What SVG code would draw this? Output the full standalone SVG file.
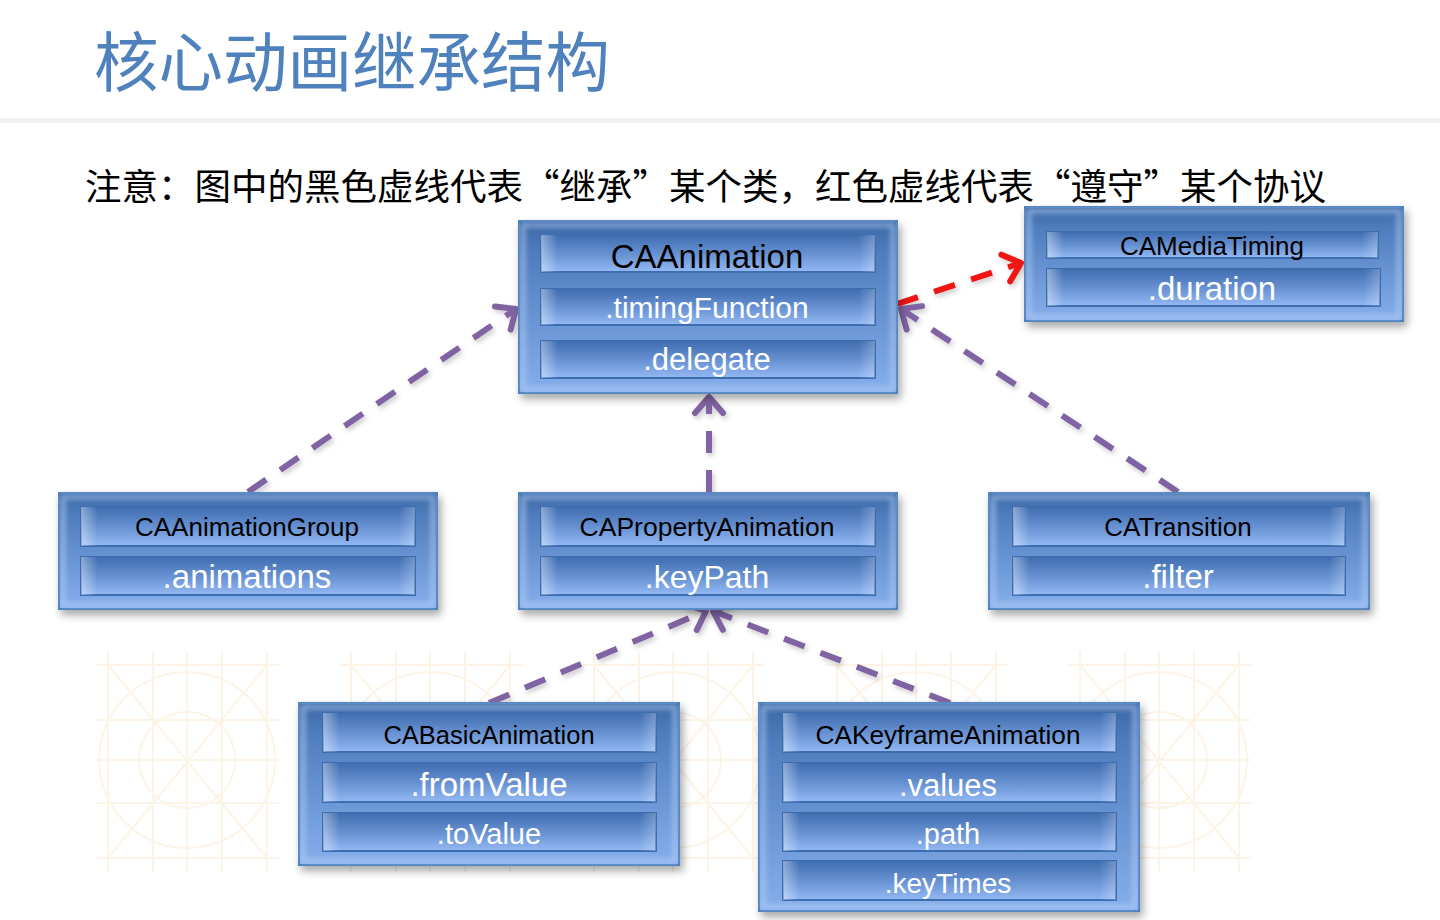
<svg xmlns="http://www.w3.org/2000/svg" width="1440" height="920" viewBox="0 0 1440 920">
<style>
.title{font-family:"Noto Sans CJK SC","Noto Sans",sans-serif;font-size:64.5px;fill:#4f81bd}
.note{font-family:"Noto Sans CJK SC","Noto Sans",sans-serif;font-size:36.5px;fill:#000}
.box{fill:url(#gBox);stroke:#4a7cbc;stroke-width:2}
.rim{fill:none;stroke:#bcd4f6;stroke-opacity:.55;stroke-width:5}
.bar{fill:url(#gBar);stroke:#3c6dae;stroke-width:2}
.barhl{fill:url(#gBarHL)}
.cls{font-family:"Liberation Sans",Arial,sans-serif;fill:#000;text-anchor:middle}
.prop{font-family:"Liberation Sans",Arial,sans-serif;fill:#fff;text-anchor:middle}
.inh{fill:none;stroke:#8064a2;stroke-width:6;stroke-dasharray:22 17}
.conf{fill:none;stroke:#f01414;stroke-width:6;stroke-dasharray:22 17}
.wm{fill:none;stroke:#fdf3e6;stroke-width:2}
</style>
<defs>
<linearGradient id="gBox" x1="0" y1="0" x2="0" y2="1">
<stop offset="0" stop-color="#3a67a4"/>
<stop offset="0.18" stop-color="#4e7cbc"/>
<stop offset="1" stop-color="#86afec"/>
</linearGradient>
<linearGradient id="gBar" x1="0" y1="0" x2="0" y2="1">
<stop offset="0" stop-color="#3f6db0"/>
<stop offset="0.5" stop-color="#6690d1"/>
<stop offset="1" stop-color="#93b9f3"/>
</linearGradient>
<linearGradient id="gBarHL" x1="0" y1="0" x2="1" y2="0">
<stop offset="0" stop-color="#ffffff" stop-opacity="0.4"/>
<stop offset="0.05" stop-color="#ffffff" stop-opacity="0"/>
<stop offset="0.95" stop-color="#ffffff" stop-opacity="0"/>
<stop offset="1" stop-color="#ffffff" stop-opacity="0.25"/>
</linearGradient>
<filter id="shadow" x="-10%" y="-10%" width="125%" height="130%">
<feDropShadow dx="3" dy="5" stdDeviation="4" flood-color="#000" flood-opacity="0.35"/>
</filter>
<filter id="lshadow" x="-10%" y="-10%" width="125%" height="130%">
<feDropShadow dx="2" dy="3" stdDeviation="2.5" flood-color="#000" flood-opacity="0.2"/>
</filter>
<filter id="blur" x="-5%" y="-5%" width="110%" height="110%">
<feGaussianBlur stdDeviation="2.5"/>
</filter>
<marker id="arrP" viewBox="-26 -22 32 44" refX="0" refY="0" markerWidth="32" markerHeight="44" markerUnits="userSpaceOnUse" orient="auto">
<path d="M-16,-14 L0,0 L-16,14" fill="none" stroke="#8064a2" stroke-width="6" stroke-linecap="round" stroke-linejoin="round"/>
</marker>
<marker id="arrR" viewBox="-26 -22 32 44" refX="0" refY="0" markerWidth="32" markerHeight="44" markerUnits="userSpaceOnUse" orient="auto">
<path d="M-16,-14 L0,0 L-16,14" fill="none" stroke="#f01414" stroke-width="6" stroke-linecap="round" stroke-linejoin="round"/>
</marker>
<pattern id="wm" x="97" y="651" width="243" height="220" patternUnits="userSpaceOnUse">
<g class="wm">
<path d="M0,14 H182 M0,69 H182 M0,109 H182 M0,152 H182 M0,207 H182 M11,0 V220 M56,0 V220 M90,0 V220 M125,0 V220 M170,0 V220 M11,14 L170,207 M170,14 L11,207"/>
<circle cx="90" cy="109" r="88"/>
<circle cx="90" cy="109" r="48"/>
</g>
</pattern>
</defs>

<rect x="0" y="0" width="1440" height="920" fill="#ffffff"/>
<rect x="0" y="118" width="1440" height="5" fill="#f2f2f2"/>
<rect x="97" y="651" width="1195" height="221" fill="url(#wm)"/>

<g id="title">
<text class="title" x="94" y="86">核心动画继承结构</text>
</g>
<g id="note">
<text class="note" x="85" y="200">注意：图中的黑色虚线代表“继承”某个类，红色虚线代表“遵守”某个协议</text>
</g>

<g id="connectors" filter="url(#lshadow)">
<line class="inh" x1="248" y1="492" x2="516" y2="309" marker-end="url(#arrP)"/>
<line class="inh" x1="709" y1="492" x2="709" y2="397" marker-end="url(#arrP)"/>
<line class="inh" x1="1178" y1="492" x2="901" y2="309" marker-end="url(#arrP)"/>
<line class="inh" x1="489" y1="703" x2="706" y2="611" marker-end="url(#arrP)"/>
<line class="inh" x1="950" y1="703" x2="713" y2="611" marker-end="url(#arrP)"/>
<line class="conf" x1="897" y1="304" x2="1021" y2="263" marker-end="url(#arrR)"/>
</g>

<g id="CAAnimation">
<rect class="box" x="519" y="221" width="378" height="172" filter="url(#shadow)"/>
<rect class="rim" x="523" y="225" width="370" height="164" filter="url(#blur)"/>
<rect class="bar" x="541" y="235" width="334" height="37"/><rect class="barhl" x="541" y="235" width="334" height="37"/>
<rect class="bar" x="541" y="289" width="334" height="36"/><rect class="barhl" x="541" y="289" width="334" height="36"/>
<rect class="bar" x="541" y="341" width="334" height="37"/><rect class="barhl" x="541" y="341" width="334" height="37"/>
<text class="cls" x="707" y="268" font-size="33">CAAnimation</text>
<text class="prop" x="707" y="318" font-size="30">.timingFunction</text>
<text class="prop" x="707" y="370" font-size="31">.delegate</text>
</g>

<g id="CAMediaTiming">
<rect class="box" x="1025" y="207" width="378" height="114" filter="url(#shadow)"/>
<rect class="rim" x="1029" y="211" width="370" height="106" filter="url(#blur)"/>
<rect class="bar" x="1047" y="232" width="331" height="26"/><rect class="barhl" x="1047" y="232" width="331" height="26"/>
<rect class="bar" x="1047" y="269" width="333" height="37"/><rect class="barhl" x="1047" y="269" width="333" height="37"/>
<text class="cls" x="1212" y="255" font-size="26">CAMediaTiming</text>
<text class="prop" x="1212" y="300" font-size="33">.duration</text>
</g>

<g id="CAAnimationGroup">
<rect class="box" x="59" y="493" width="378" height="116" filter="url(#shadow)"/>
<rect class="rim" x="63" y="497" width="370" height="108" filter="url(#blur)"/>
<rect class="bar" x="81" y="507" width="334" height="39"/><rect class="barhl" x="81" y="507" width="334" height="39"/>
<rect class="bar" x="81" y="557" width="334" height="38"/><rect class="barhl" x="81" y="557" width="334" height="38"/>
<text class="cls" x="247" y="536" font-size="26">CAAnimationGroup</text>
<text class="prop" x="247" y="588" font-size="33">.animations</text>
</g>

<g id="CAPropertyAnimation">
<rect class="box" x="519" y="493" width="378" height="116" filter="url(#shadow)"/>
<rect class="rim" x="523" y="497" width="370" height="108" filter="url(#blur)"/>
<rect class="bar" x="541" y="507" width="334" height="39"/><rect class="barhl" x="541" y="507" width="334" height="39"/>
<rect class="bar" x="541" y="557" width="334" height="38"/><rect class="barhl" x="541" y="557" width="334" height="38"/>
<text class="cls" x="707" y="536" font-size="26.5">CAPropertyAnimation</text>
<text class="prop" x="707" y="588" font-size="32">.keyPath</text>
</g>

<g id="CATransition">
<rect class="box" x="989" y="493" width="380" height="116" filter="url(#shadow)"/>
<rect class="rim" x="993" y="497" width="372" height="108" filter="url(#blur)"/>
<rect class="bar" x="1013" y="507" width="332" height="39"/><rect class="barhl" x="1013" y="507" width="332" height="39"/>
<rect class="bar" x="1013" y="557" width="332" height="38"/><rect class="barhl" x="1013" y="557" width="332" height="38"/>
<text class="cls" x="1178" y="536" font-size="26">CATransition</text>
<text class="prop" x="1178" y="588" font-size="33">.filter</text>
</g>

<g id="CABasicAnimation">
<rect class="box" x="299" y="703" width="380" height="162" filter="url(#shadow)"/>
<rect class="rim" x="303" y="707" width="372" height="154" filter="url(#blur)"/>
<rect class="bar" x="323" y="713" width="333" height="39"/><rect class="barhl" x="323" y="713" width="333" height="39"/>
<rect class="bar" x="323" y="763" width="333" height="39"/><rect class="barhl" x="323" y="763" width="333" height="39"/>
<rect class="bar" x="323" y="813" width="333" height="38"/><rect class="barhl" x="323" y="813" width="333" height="38"/>
<text class="cls" x="489" y="744" font-size="25.5">CABasicAnimation</text>
<text class="prop" x="489" y="796" font-size="33">.fromValue</text>
<text class="prop" x="489" y="844" font-size="29">.toValue</text>
</g>

<g id="CAKeyframeAnimation">
<rect class="box" x="759" y="703" width="380" height="208" filter="url(#shadow)"/>
<rect class="rim" x="763" y="707" width="372" height="200" filter="url(#blur)"/>
<rect class="bar" x="783" y="713" width="333" height="39"/><rect class="barhl" x="783" y="713" width="333" height="39"/>
<rect class="bar" x="783" y="763" width="333" height="39"/><rect class="barhl" x="783" y="763" width="333" height="39"/>
<rect class="bar" x="783" y="813" width="333" height="38"/><rect class="barhl" x="783" y="813" width="333" height="38"/>
<rect class="bar" x="783" y="861" width="333" height="39"/><rect class="barhl" x="783" y="861" width="333" height="39"/>
<text class="cls" x="948" y="744" font-size="26.2">CAKeyframeAnimation</text>
<text class="prop" x="948" y="796" font-size="31">.values</text>
<text class="prop" x="948" y="844" font-size="29">.path</text>
<text class="prop" x="948" y="893" font-size="28">.keyTimes</text>
</g>
</svg>
